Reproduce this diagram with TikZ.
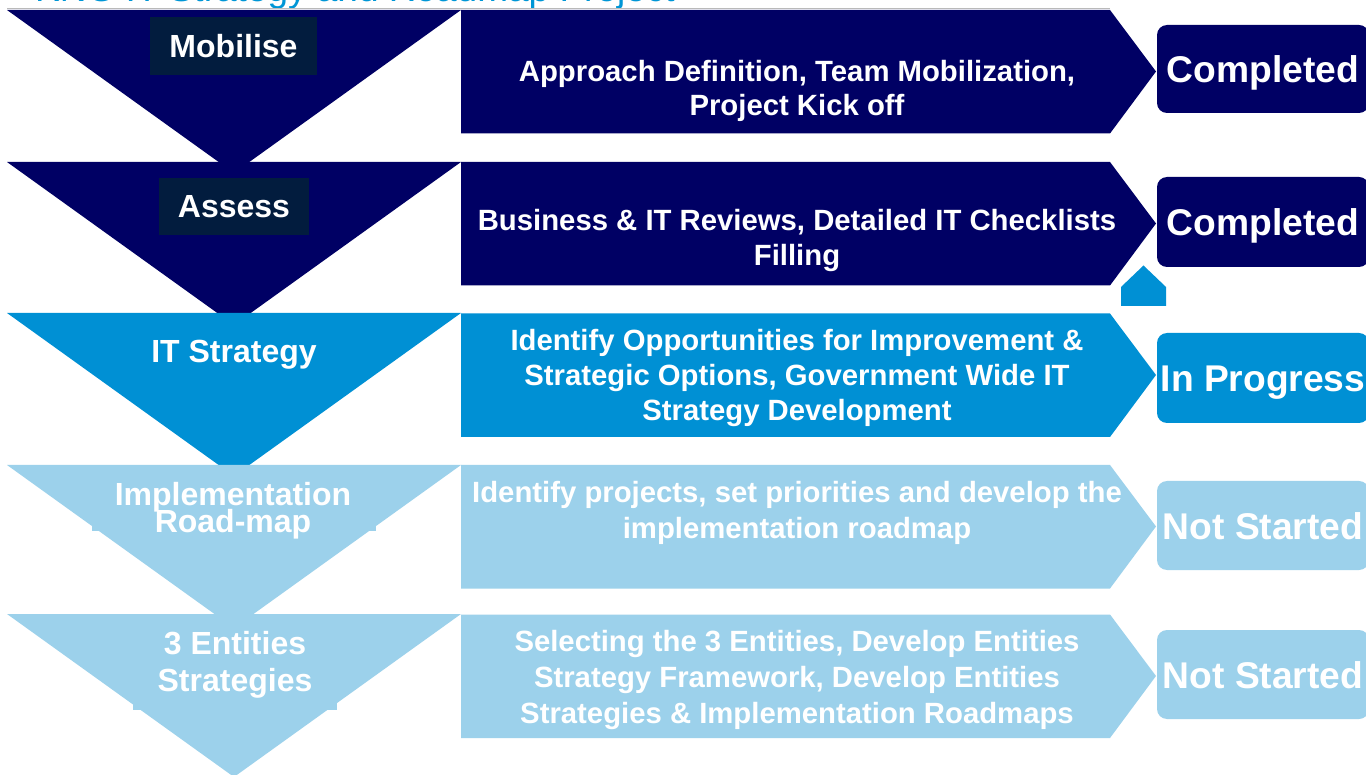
\documentclass[tikz,border=0pt]{standalone}
\usepackage{fontspec}
\setmainfont{Liberation Sans}
\definecolor{navy}{RGB}{0,0,100}
\definecolor{tagnavy}{RGB}{2,28,62}
\definecolor{midblue}{RGB}{0,144,212}
\definecolor{paleblue}{RGB}{156,209,235}
\definecolor{titleblue}{RGB}{0,150,214}

% phase funnel triangle: fill colour, top edge y
\newcommand\phasetri[2]{\fill[#1] (7,#2) -- (461,#2) -- (234,#2+163) -- cycle;}
% task banner with arrow point: fill colour, top edge y
\newcommand\taskbar[2]{\fill[#1] (461,#2) -- (1110,#2) -- (1156,#2+61.5) -- (1110,#2+123.5) -- (461,#2+123.5) -- cycle;}
% status badge: fill colour, top y, bottom y
\newcommand\statebox[3]{\fill[#1, rounded corners=10pt] (1157,#2) rectangle (1369,#3);}

\begin{document}
\begin{tikzpicture}[x=1pt,y=-1pt,
  phase/.style={font=\fontsize{32}{36}\selectfont\bfseries, text=white, anchor=base, inner sep=0pt},
  task/.style={font=\fontsize{29.3}{34}\selectfont\bfseries, text=white, anchor=base, inner sep=0pt},
  state/.style={font=\fontsize{37.2}{42}\selectfont\bfseries, text=white, anchor=base, inner sep=0pt}]
\clip (0,0) rectangle (1366,775);
\fill[white] (0,0) rectangle (1366,775);

% slide title (runs off the top edge)
\node[font=\fontsize{37}{42}\selectfont, text=titleblue, anchor=base west, inner sep=0pt]
  (title) at (35,1.5) {KNG IT Strategy and Roadmap Project};
\draw[gray!55, line width=1pt] (7,9) -- (1110,9);

% phase funnel
\phasetri{navy}{10}
\fill[tagnavy] (150,17) rectangle (317,75);
\phasetri{navy}{162}
\fill[tagnavy] (159,178) rectangle (309,235);
\phasetri{midblue}{313}
\phasetri{paleblue}{465}
\fill[paleblue] (92,485) rectangle (376,531);
\phasetri{paleblue}{614}
\fill[paleblue] (133,640) rectangle (337,710);

\node[phase] (p1) at (233.5,57.5) {Mobilise};
\node[phase] (p2) at (234,218) {Assess};
\node[phase] (p3) at (234,362.5) {IT Strategy};
\node[phase] (p4a) at (233,505) {Implementation};
\node[phase] (p4b) at (233,532) {Road-map};
\node[phase] (p5a) at (235,654) {3 Entities};
\node[phase] (p5b) at (235,691) {Strategies};

% task banners
\taskbar{navy}{10}
\taskbar{navy}{162}
\taskbar{midblue}{313.5}
\taskbar{paleblue}{465}
\taskbar{paleblue}{614.5}

\node[task] (t1a) at (797,82) {Approach Definition, Team Mobilization,};
\node[task] (t1b) at (797,115.5) {Project Kick off};
\node[task] (t2a) at (797,231) {Business \& IT Reviews, Detailed IT Checklists};
\node[task] (t2b) at (797,266) {Filling};
\node[task] (t3a) at (797,351) {Identify Opportunities for Improvement \&};
\node[task] (t3b) at (797,386) {Strategic Options, Government Wide IT};
\node[task] (t3c) at (797,421) {Strategy Development};
\node[task] (t4a) at (797,503) {Identify projects, set priorities and develop the};
\node[task] (t4b) at (797,538) {implementation roadmap};
\node[task] (t5a) at (797,651) {Selecting the 3 Entities, Develop Entities};
\node[task] (t5b) at (797,687) {Strategy Framework, Develop Entities};
\node[task] (t5c) at (797,723) {Strategies \& Implementation Roadmaps};

% current-position marker
\fill[midblue] (1121,306) -- (1121,287) -- (1143.5,265.5) -- (1166,287) -- (1166,306) -- cycle;

% status badges
\statebox{navy}{25}{113}
\statebox{navy}{177}{267}
\statebox{midblue}{333}{423}
\statebox{paleblue}{481}{570}
\statebox{paleblue}{630}{719}

\node[state] (s1) at (1263,83) {Completed};
\node[state] (s2) at (1263,236) {Completed};
\node[state] (s3) at (1263,392) {In Progress};
\node[state] (s4) at (1263,539) {Not Started};
\node[state] (s5) at (1263,688) {Not Started};
\end{tikzpicture}
\end{document}
